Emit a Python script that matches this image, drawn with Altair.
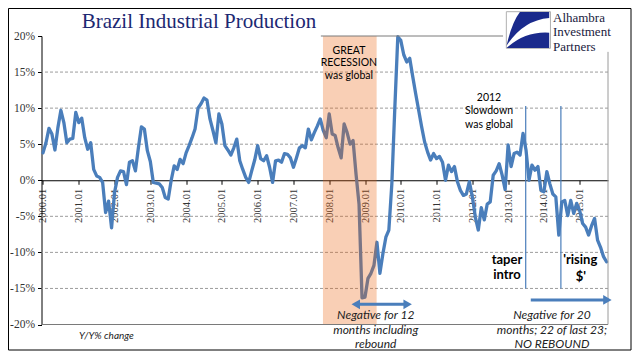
import altair as alt
import pandas as pd

# ---- data: Brazil industrial production, Y/Y % change, monthly 2000.01 - 2015.10
v2000 = [3.8, 5.2, 7.2, 6.4, 4.2, 7.3, 9.7, 8.0, 5.2, 5.7, 5.8, 9.4]
v2001 = [8.0, 8.6, 5.9, 4.3, 5.2, 1.5, 0.6, 0.4, -0.3, -4.5, -2.9, -6.6]
v2002 = [-1.7, 0.4, 1.3, 1.2, -0.6, 2.5, 2.7, 1.3, 4.5, 7.4, 7.1, 4.1]
v2003 = [2.6, -0.3, -0.4, -0.5, -1.0, -2.4, -2.6, 0.0, 2.0, 1.5, 2.9, 2.3]
v2004 = [3.8, 4.8, 5.9, 7.1, 10.0, 10.6, 11.4, 11.1, 8.5, 6.9, 5.2, 9.2]
v2005 = [7.8, 4.8, 4.2, 3.5, 4.5, 5.7, 2.7, 1.5, 0.4, -0.3, 1.3, 2.8]
v2006 = [4.8, 3.0, 2.7, 3.4, 1.8, -0.3, 2.7, 2.8, 2.5, 3.7, 3.6, 3.1]
v2007 = [1.8, 3.1, 4.5, 4.8, 4.5, 7.1, 5.6, 6.6, 7.5, 8.5, 6.9, 5.9]
v2008 = [9.2, 6.4, 6.2, 4.5, 3.1, 7.8, 6.6, 5.0, 5.5, 0.8, -3.3, -16.3]
v2009 = [-16.2, -13.6, -12.9, -11.8, -8.6, -12.9, -10.2, -7.9, -6.9, -0.5, 10.0, 19.9]
v2010 = [19.4, 17.4, 16.4, 16.9, 14.4, 12.0, 9.7, 7.4, 5.3, 3.9, 2.8, 3.7]
v2011 = [3.0, 3.3, 2.5, 0.0, 2.1, 1.2, 1.9, -0.2, -1.4, -2.1, -1.9, -0.2]
v2012 = [-2.3, -5.1, -6.9, -3.8, -5.5, -3.3, -3.0, 0.7, 1.3, 2.3, 0.7, -1.3]
v2013 = [4.9, 1.9, 3.7, 3.9, 3.5, 6.5, 4.2, 0.0, 2.1, 1.4, 1.9, -1.4]
v2014 = [-1.6, 1.2, -0.5, -1.9, -2.3, -7.6, -3.0, -2.8, -4.9, -2.8, -4.6, -3.2]
v2015 = [-4.2, -6.0, -6.5, -7.6, -6.3, -5.3, -8.3, -9.3, -10.6, -11.3]

values = (v2000 + v2001 + v2002 + v2003 + v2004 + v2005 + v2006 + v2007 +
          v2008 + v2009 + v2010 + v2011 + v2012 + v2013 + v2014 + v2015)
months = [f"{2000 + i // 12}.{i % 12 + 1:02d}" for i in range(len(values))]

year_ticks = list(range(0, 181, 12))          # month index of each January
y_ticks = [20, 15, 10, 5, 0, -5, -10, -15, -20]
grid_levels = [15, 10, 5, -5, -10, -15]

# annotation data (month-index / percent coordinates)
recession = {"x1": [93.9], "x2": [111.9], "y1": [-20], "y2": [20]}
event_lines = {"x": [161.9, 173.7], "y1": [10.3, 10.3], "y2": [-15, -15]}

rec_text = ["GREAT", "RECESSION", "was global"]
rec_text_y = [17.9, 16.25, 14.45]
slow_text = ["2012", "Slowdown", "was global"]
slow_text_y = [11.4, 9.6, 7.65]
bold_text = ["taper", "intro", "'rising", "$'"]
bold_text_x = [155.6, 155.6, 180.2, 180.4]
bold_text_y = [-11.05, -13.15, -11.05, -13.4]
neg12_text = ["Negative for 12", "months including", "rebound"]
neg20_text = ["Negative for 20", "months; 22 of last 23;", "NO REBOUND"]
neg_text_y = [-18.7, -20.75, -22.7]

logo_text = ["Alhambra", "Investment", "Partners"]
logo_text_y = [22.0, 19.98, 17.98]

W, H = 566.5, 288.5
xs = alt.Scale(domain=[-0.5, 189.5], nice=False, zero=False)
ys = alt.Scale(domain=[-20, 20], nice=False, zero=False)

x_axis = alt.Axis(
    values=year_ticks, labelExpr="(2000 + datum.value / 12) + '.01'",
    labelAngle=270, offset=-H / 2, grid=False, title=None,
    domainColor="black", tickColor="black", tickSize=4,
    labelFont="Liberation Serif", labelFontSize=10.5, labelColor="#333333",
    labelPadding=4, labelOverlap=False, labelFlush=False, labelBound=False)
y_axis = alt.Axis(
    values=y_ticks, labelExpr="datum.value + '%'", grid=False, title=None,
    domainColor="black", tickColor="black", tickSize=4,
    labelFont="Liberation Serif", labelFontSize=11.5, labelColor="#333333",
    labelPadding=3)


def X(field):
    return alt.X(field, type="quantitative", scale=xs, axis=x_axis)


def Y(field):
    return alt.Y(field, type="quantitative", scale=ys, axis=y_axis)


df = pd.DataFrame({"m": list(range(len(values))), "v": values, "month": months})

grid = alt.Chart(pd.DataFrame({"g": grid_levels})).mark_rule(
    color="#9c9c9c", strokeDash=[3, 2], strokeWidth=1
).encode(y=Y("g"))

line = alt.Chart(df).mark_line(
    color="#4A7EBB", strokeWidth=3.3, strokeJoin="round", strokeCap="round"
).encode(x=X("m"), y=Y("v"))

rec_rect = alt.Chart(pd.DataFrame(recession)).mark_rect(
    color="#EB5F0A", opacity=0.3
).encode(x=X("x1"), x2="x2", y=Y("y1"), y2="y2")

vlines = alt.Chart(pd.DataFrame(event_lines)).mark_rule(
    color="#4A7EBB", strokeWidth=1.2
).encode(x=X("x"), y=Y("y1"), y2="y2")

# plot-area border pieces (bottom, right, visible part of top)
border_h = alt.Chart(pd.DataFrame({"x1": [-0.5, 93.2], "x2": [189.5, 154.3],
                                   "y": [-20, 20]})).mark_rule(
    color="#7a7a7a", strokeWidth=1
).encode(x=X("x1"), x2="x2", y=Y("y"))
border_v = alt.Chart(pd.DataFrame({"x": [189.5], "y1": [-20], "y2": [17.8]})).mark_rule(
    color="#9a9a9a", strokeWidth=1
).encode(x=X("x"), y=Y("y1"), y2="y2")


def text_layer(texts, xv, yv, align="center", **style):
    d = pd.DataFrame({"t": texts, "x": xv, "y": yv})
    return alt.Chart(d).mark_text(align=align, baseline="middle", **style).encode(
        x=X("x"), y=Y("y"), text="t:N")


t_rec = text_layer(rec_text, [102.6] * 3, rec_text_y, font="Lato", fontSize=10.5, color="black")
t_slow = text_layer(slow_text, [149.6] * 3, slow_text_y, font="Lato", fontSize=10.5, color="black")
t_bold = text_layer(bold_text, bold_text_x, bold_text_y, font="Lato", fontSize=13,
                    fontWeight="bold", color="black")
t_n12 = text_layer(neg12_text, [111.6] * 3, neg_text_y, font="Lato", fontSize=12,
                   fontStyle="italic", color="#222222")
t_n20 = text_layer(neg20_text, [170.7] * 3, neg_text_y, font="Lato", fontSize=12,
                   fontStyle="italic", color="#222222")
t_yy = text_layer(["Y/Y% change"], [12.1], [-21.65], align="left", font="Lato",
                  fontSize=10, fontStyle="italic", color="#222222")

title = alt.Chart(pd.DataFrame({"t": ["Brazil Industrial Production"], "x": [52.3], "y": [21.04]})
                  ).mark_text(align="center", baseline="alphabetic", font="Liberation Serif",
                              fontSize=21, color="#1C2872").encode(x=X("x"), y=Y("y"), text="t:N")

# arrows
arrow_shafts = alt.Chart(pd.DataFrame({"x1": [105.0, 163.6], "x2": [122.2, 189.0],
                                       "y": [-17.2, -16.6]})).mark_rule(
    color="#4A7EBB", strokeWidth=3
).encode(x=X("x1"), x2="x2", y=Y("y"))
arrow_heads = alt.Chart(pd.DataFrame({"x": [104.9, 122.3, 189.3], "y": [-17.2, -17.2, -16.6],
                                      "s": ["triangle-left", "triangle-right", "triangle-right"]})
                        ).mark_point(filled=True, size=95, color="#4A7EBB", opacity=1).encode(
    x=X("x"), y=Y("y"), shape=alt.Shape("s:N", scale=None))

# logo
logo_box = alt.Chart(pd.DataFrame({"x1": [155.4], "x2": [170.2], "y1": [23.37], "y2": [18.29]})
                     ).mark_rect(fill="white", stroke="#b0b0b0", strokeWidth=1).encode(
    x=X("x1"), x2="x2", y=Y("y1"), y2="y2")
logo_path = ("M -0.33 -0.82 L 1 -0.82 L 1 -0.55 Q -0.2 -0.45 -0.94 0.72 "
             "Q -0.7 -0.35 -0.33 -0.82 Z M -0.94 0.82 Q -0.1 0.05 1 0.12 L 1 0.82 Z")
logo_icon = alt.Chart(pd.DataFrame({"x": [162.4], "y": [20.83]})).mark_point(
    shape=logo_path, size=1936, filled=True, color="#1A2A8C", opacity=1, strokeWidth=0
).encode(x=X("x"), y=Y("y"))
logo_words = alt.Chart(pd.DataFrame({"t": logo_text, "x": [171.05] * 3, "y": logo_text_y})
                       ).mark_text(align="left", baseline="alphabetic", font="Liberation Serif",
                                   fontSize=13, color="#1a1a40").encode(
    x=X("x"), y=Y("y"), text="t:N")

frame = alt.Chart(pd.DataFrame({"a": [0]})).mark_rect(
    fillOpacity=0, stroke="black", strokeWidth=1
).encode(x=alt.value(-33), x2=alt.value(589.5), y=alt.value(-27.5), y2=alt.value(314))

chart = alt.layer(
    grid, line, rec_rect, vlines, border_h, border_v,
    t_rec, t_slow, t_bold, t_n12, t_n20, t_yy, title,
    arrow_shafts, arrow_heads, logo_box, logo_icon, logo_words, frame
).properties(
    width=W, height=H,
    autosize=alt.AutoSizeParams(type="none"),
    padding={"left": 33.5, "top": 28, "right": 24, "bottom": 27.5},
    background="white",
).configure_view(stroke=None)

chart.save("out.html", embed_options={"renderer": "svg", "actions": False})
